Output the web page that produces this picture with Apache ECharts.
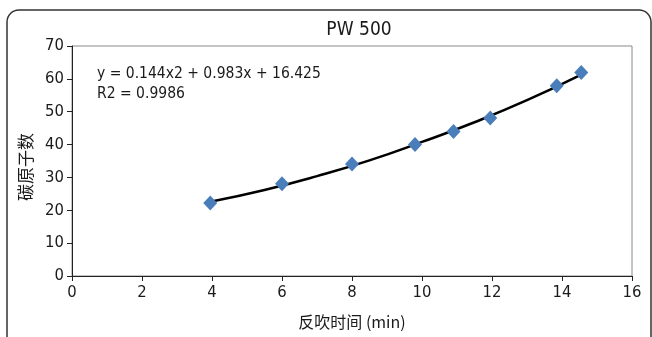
<!DOCTYPE html>
<html lang="zh">
<head>
  <meta charset="UTF-8">
  <title>PW 500</title>
  <script src="https://cdn.jsdelivr.net/npm/echarts@6/dist/echarts.min.js"></script>
  <style>
    html, body { margin: 0; padding: 0; background: #fff; }
  </style>
</head>
<body>
    <div id="main" style="width: 652px;height:337px;"></div>
    <script type="text/javascript">
         // 数据点 (反吹时间, 碳原子数)
         var timeSet = [3.95, 6.0, 8.0, 9.8, 10.9, 11.95, 13.85, 14.55];
         var carbonSet = [22.2, 28.1, 34.1, 40.0, 44.0, 48.1, 57.9, 61.9];
         // 趋势线 (从图上读的)
         var trendX = [3.95, 5.5, 7.0, 8.5, 10.0, 11.5, 13.0, 14.55];
         var trendY = [22.6, 26.2, 30.4, 35.2, 40.8, 46.8, 53.5, 61.3];
         var xTicks = [0, 2, 4, 6, 8, 10, 12, 14, 16];
         var yTicks = [0, 10, 20, 30, 40, 50, 60, 70];
         var eqText = ['y = 0.144x2 + 0.983x + 16.425', 'R2 = 0.9986'];

         var font = '"Liberation Sans Narrow", "DejaVu Sans Condensed", sans-serif';
         var cjkFont = '"Liberation Sans Narrow", "Noto Sans CJK SC", sans-serif';

         var points = [];
         for (var i = 0; i < timeSet.length; i++) {
             points.push([timeSet[i], carbonSet[i]]);
         }
         var trend = [];
         for (var j = 0; j < trendX.length; j++) {
             trend.push([trendX[j], trendY[j]]);
         }

         var myChart = echarts.init(document.getElementById('main'));

         var option = {
            animation: false,
            backgroundColor: '#fff',
            title: {
                text: 'PW 500',
                left: 354,
                top: 16,
                textAlign: 'center',
                textStyle: { fontFamily: font, fontSize: 19, fontWeight: 'normal', color: '#1a1a1a' }
            },
            grid: {
                left: 72, right: 20, top: 46, bottom: 61,
                show: true, borderColor: '#8a8a8a', borderWidth: 1
            },
            graphic: [
                {
                    type: 'rect', z: -1,
                    shape: { x: 7, y: 10, width: 644, height: 340, r: 12 },
                    style: { fill: 'none', stroke: '#333', lineWidth: 1.5 }
                },
                {
                    type: 'text', left: 97, top: 66,
                    style: { text: eqText[0], fontFamily: font, fontSize: 15.5, fill: '#1a1a1a' }
                },
                {
                    type: 'text', left: 97, top: 86,
                    style: { text: eqText[1], fontFamily: font, fontSize: 15.5, fill: '#1a1a1a' }
                }
            ],
            xAxis: {
                type: 'value',
                min: xTicks[0], max: xTicks[xTicks.length - 1], interval: 2,
                name: '反吹时间 (min)',
                nameLocation: 'middle',
                nameGap: 38,
                nameTextStyle: { fontFamily: cjkFont, fontSize: 16, color: '#1a1a1a' },
                axisLine: { onZero: false, lineStyle: { color: '#222', width: 1 } },
                axisTick: { show: true, length: 5, lineStyle: { color: '#222' } },
                axisLabel: { fontFamily: font, fontSize: 16.5, color: '#1a1a1a', margin: 8, showMinLabel: true, showMaxLabel: true },
                splitLine: { show: false }
            },
            yAxis: {
                type: 'value',
                min: yTicks[0], max: yTicks[yTicks.length - 1], interval: 10,
                name: '碳原子数',
                nameLocation: 'middle',
                nameGap: 31,
                nameRotate: 90,
                nameTextStyle: { fontFamily: cjkFont, fontSize: 17, color: '#1a1a1a', padding: [0, 12, 0, 0] },
                axisLine: { show: true, onZero: false, lineStyle: { color: '#222', width: 1 } },
                axisTick: { show: true, length: 5, lineStyle: { color: '#222' } },
                axisLabel: { fontFamily: font, fontSize: 16.5, color: '#1a1a1a', margin: 8, showMinLabel: true, showMaxLabel: true },
                splitLine: { show: false }
            },
            series: [
                {
                    name: 'trend',
                    type: 'line',
                    data: trend,
                    smooth: 0.5,
                    showSymbol: false,
                    lineStyle: { color: '#000', width: 2.5 },
                    z: 2
                },
                {
                    name: 'PW 500',
                    type: 'scatter',
                    data: points,
                    symbol: 'diamond',
                    symbolSize: [14, 15],
                    itemStyle: { color: '#4a7ebb', opacity: 1 },
                    z: 3
                }
            ]
        };

        myChart.setOption(option);
    </script>
</body>
</html>
